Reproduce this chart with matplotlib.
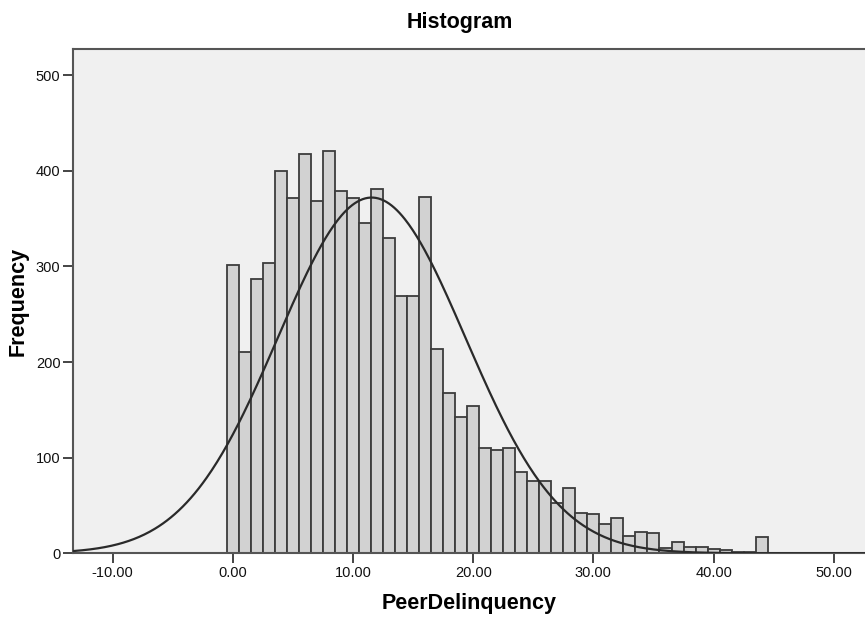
import numpy as np
import matplotlib
matplotlib.use("Agg")
import matplotlib.pyplot as plt
from matplotlib.ticker import FormatStrFormatter

plt.rcParams['font.family'] = ['Liberation Sans', 'DejaVu Sans']

# Histogram counts, one bin per integer value of PeerDelinquency (0..44)
bin_start = 0
bin_width = 1.0
counts = [301, 210, 287, 304, 400, 371, 417, 368, 421, 379,
          371, 345, 381, 330, 269, 269, 373, 214, 168, 143,
          154, 110, 108, 110, 85, 76, 76, 53, 68, 42,
          41, 31, 37, 18, 22, 21, 6, 12, 7, 7,
          4, 3, 1, 1, 17]

# Normal curve overlaid by SPSS
norm_mean = 11.55
norm_sd = 7.8
norm_n = 7273

x_ticks = [-10, 0, 10, 20, 30, 40, 50]
y_ticks = [0, 100, 200, 300, 400, 500]
x_range = (-13.3, 52.6)
y_range = (0, 527)

fig = plt.figure(figsize=(8.65, 6.18), dpi=100)
ax = fig.add_axes([73 / 865, 64.7 / 618, 792 / 865, 504 / 618])
ax.set_facecolor("#f0f0f0")

centers = bin_start + bin_width * np.arange(len(counts))
ax.bar(centers, counts, width=bin_width, color="#d2d2d2",
       edgecolor="#3c3c3c", linewidth=1.3, zorder=2)

# Normal curve
xs = np.linspace(x_range[0], x_range[1], 600)
ys = norm_n * bin_width * np.exp(-0.5 * ((xs - norm_mean) / norm_sd) ** 2) / (norm_sd * np.sqrt(2 * np.pi))
ax.plot(xs, ys, color="#2a2a2a", linewidth=1.6, zorder=3)

ax.set_xlim(*x_range)
ax.set_ylim(*y_range)
ax.set_xticks(x_ticks)
ax.set_yticks(y_ticks)
ax.xaxis.set_major_formatter(FormatStrFormatter("%.2f"))
ax.tick_params(axis="both", direction="out", length=7, width=1.4,
               color="#444444", labelsize=10.5, pad=2, labelcolor="#111111")

for side in ["left", "bottom", "top"]:
    ax.spines[side].set_color("#555555")
    ax.spines[side].set_linewidth(1.5)
ax.spines["right"].set_visible(False)

ax.set_xlabel("PeerDelinquency", fontsize=15.5, fontweight="bold")
ax.xaxis.set_label_coords(0.5, -0.1)
ax.xaxis.label.set_verticalalignment("center")
ax.set_ylabel("Frequency", fontsize=15.5, fontweight="bold")
ax.yaxis.set_label_coords(-0.069, 0.5)
ax.yaxis.label.set_verticalalignment("center")

ax.text(0.4886, 1.054, "Histogram", transform=ax.transAxes,
        ha="center", va="center", fontsize=15.5, fontweight="bold")

fig.savefig("out.png", dpi=100, facecolor="white")
